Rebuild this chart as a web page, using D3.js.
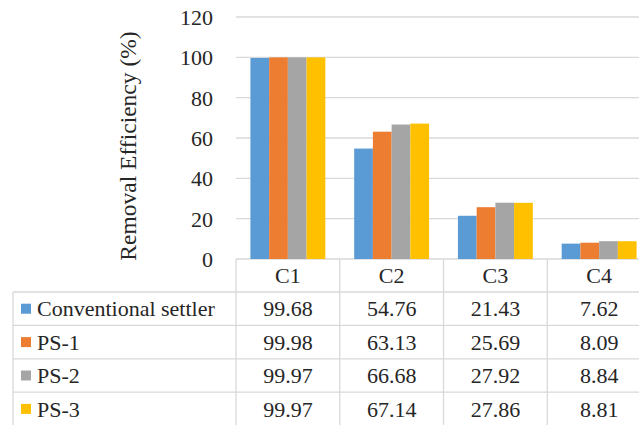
<!DOCTYPE html>
<html>
<head>
<meta charset="utf-8">
<script src="https://cdn.jsdelivr.net/npm/d3@7"></script>
<style>
  html, body { margin: 0; padding: 0; background: #fff; overflow: hidden; }
  #chart text { font-family: "Liberation Serif", "Times New Roman", Times, "DejaVu Serif", serif !important; }
</style>
</head>
<body>
<svg id="chart" width="639" height="425"></svg>
<script>
// Removal efficiency (%) per size class for each settler design
const categories = ["C1", "C2", "C3", "C4"];
const seriesNames = ["Conventional settler", "PS-1", "PS-2", "PS-3"];
const conventional = [99.68, 54.76, 21.43, 7.62];
const ps1 = [99.98, 63.13, 25.69, 8.09];
const ps2 = [99.97, 66.68, 27.92, 8.84];
const ps3 = [99.97, 67.14, 27.86, 8.81];
const seriesValues = [conventional, ps1, ps2, ps3];
const colors = ["#5B9BD5", "#ED7D31", "#A5A5A5", "#FFC000"];
const yTicks = [0, 20, 40, 60, 80, 100, 120];

const svg = d3.select("#chart");
const gridColor = "#d9d9d9";
const textColor = "#262626";
const serif = "'Liberation Serif', 'Times New Roman', Times, serif";

// plot area: the last column runs past the right edge, as the table does
const plotLeft = 236, colW = 103.75;
const x = d3.scaleBand().domain(categories)
  .range([plotLeft, plotLeft + colW * categories.length]).padding(0);
const xs = d3.scaleBand().domain(seriesNames)
  .range([0, x.bandwidth()]).paddingInner(0).paddingOuter(0.77);
const y = d3.scaleLinear().domain([0, 120]).range([259, 17]);

// horizontal gridlines
svg.append("g").selectAll("line").data(yTicks).join("line")
  .attr("x1", plotLeft).attr("x2", 639)
  .attr("y1", d => y(d)).attr("y2", d => y(d))
  .attr("stroke", gridColor).attr("stroke-width", 1.3);

// y axis tick labels
const yAxis = d3.axisLeft(y).tickValues(yTicks).tickSize(0).tickPadding(0);
const ya = svg.append("g").attr("transform", "translate(213,0)").call(yAxis)
  .attr("font-family", serif);
ya.select(".domain").remove();
ya.selectAll("text")
  .attr("font-size", 22).attr("fill", textColor).attr("dy", "0.34em");

// y axis title
svg.append("text")
  .attr("transform", "translate(136,146) rotate(-90)")
  .attr("text-anchor", "middle")
  .attr("font-size", 23.5).attr("fill", textColor)
  .text("Removal Efficiency (%)");

// bars
const groups = svg.append("g").selectAll("g").data(categories).join("g")
  .attr("transform", d => `translate(${x(d)},0)`);
groups.selectAll("rect")
  .data((c, ci) => seriesNames.map((s, si) => ({ s, si, v: seriesValues[si][ci] })))
  .join("rect")
  .attr("x", d => xs(d.s))
  .attr("width", xs.bandwidth())
  .attr("y", d => y(d.v))
  .attr("height", d => y(0) - y(d.v))
  .attr("fill", d => colors[d.si]);

// data table below the axis
const tableLeft = 13;
const headerTop = 259, headerBottom = 292, rowH = 33.4;
const rowTop = i => headerBottom + i * rowH;
const table = svg.append("g");

// horizontal rules
const hLines = d3.range(seriesNames.length).map(i => rowTop(i));
table.selectAll("line.h").data(hLines).join("line").attr("class", "h")
  .attr("x1", tableLeft).attr("x2", 639)
  .attr("y1", d => d).attr("y2", d => d)
  .attr("stroke", gridColor).attr("stroke-width", 1.3);

// vertical rules
table.append("line")
  .attr("x1", tableLeft).attr("x2", tableLeft)
  .attr("y1", headerBottom).attr("y2", 425)
  .attr("stroke", gridColor).attr("stroke-width", 1.3);
table.selectAll("line.v").data(categories).join("line").attr("class", "v")
  .attr("x1", d => x(d)).attr("x2", d => x(d))
  .attr("y1", headerTop).attr("y2", 425)
  .attr("stroke", gridColor).attr("stroke-width", 1.3);

// column headers
table.selectAll("text.hdr").data(categories).join("text").attr("class", "hdr")
  .attr("x", d => x(d) + x.bandwidth() / 2)
  .attr("y", (headerTop + headerBottom) / 2)
  .attr("dy", "0.35em").attr("text-anchor", "middle")
  .attr("font-size", 22).attr("fill", textColor)
  .text(d => d);

// row labels with legend keys
const rows = table.selectAll("g.row").data(seriesNames).join("g").attr("class", "row")
  .attr("transform", (d, i) => `translate(0,${rowTop(i) + rowH / 2})`);
rows.append("rect")
  .attr("x", 21).attr("y", -5).attr("width", 10).attr("height", 10)
  .attr("fill", (d, i) => colors[i]);
rows.append("text")
  .attr("x", 37).attr("dy", "0.35em")
  .attr("font-size", 22).attr("fill", textColor)
  .text(d => d);

// cell values
rows.selectAll("text.val")
  .data((s, si) => categories.map((c, ci) => ({ c, v: seriesValues[si][ci] })))
  .join("text").attr("class", "val")
  .attr("x", d => x(d.c) + x.bandwidth() / 2)
  .attr("dy", "0.35em").attr("text-anchor", "middle")
  .attr("font-size", 22).attr("fill", textColor)
  .text(d => d.v.toFixed(2));

svg.selectAll("text").style("font-family", serif);
</script>
</body>
</html>
